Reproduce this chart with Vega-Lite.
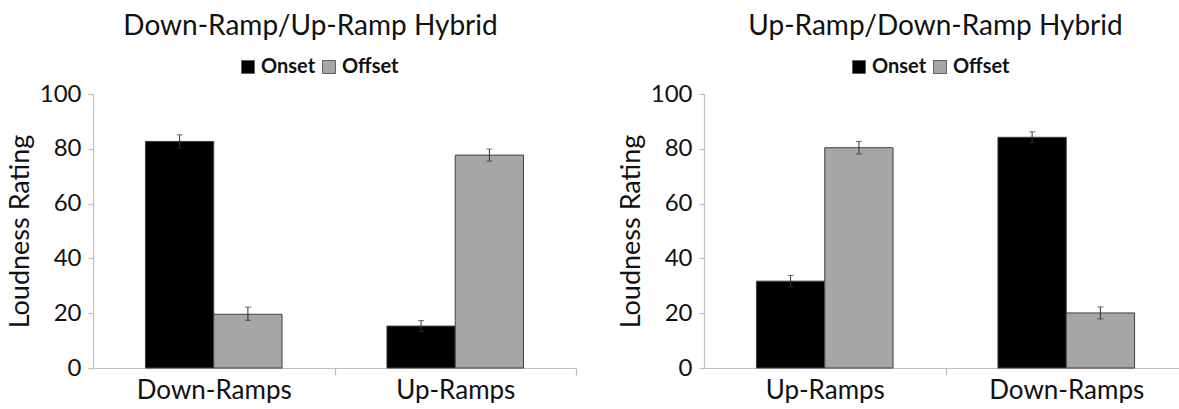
{
  "$schema": "https://vega.github.io/schema/vega-lite/v6.json",
  "padding": {"left": 6, "top": 13, "right": 0, "bottom": 0},
  "background": "white",
  "config": {
    "font": "Lato",
    "view": {"stroke": null},
    "axis": {"labelColor": "#111111", "titleColor": "#111111", "domainColor": "#bfbfbf", "tickColor": "#bfbfbf", "domainWidth": 1.2, "tickWidth": 1.2, "labelFont": "Lato", "titleFont": "Lato"},
    "title": {"font": "Lato", "fontSize": 28, "fontWeight": "normal", "color": "#111111", "anchor": "middle", "frame": "group"}
  },
  "datasets": {
    "left": [
      {"ramp": "Down-Ramps", "timing": "Onset", "rating": 82.7, "lo": 80.3, "hi": 85.1},
      {"ramp": "Down-Ramps", "timing": "Offset", "rating": 19.6, "lo": 17.4, "hi": 22.2},
      {"ramp": "Up-Ramps", "timing": "Onset", "rating": 15.3, "lo": 13.3, "hi": 17.3},
      {"ramp": "Up-Ramps", "timing": "Offset", "rating": 77.7, "lo": 75.5, "hi": 79.9}
    ],
    "right": [
      {"ramp": "Up-Ramps", "timing": "Onset", "rating": 31.7, "lo": 29.6, "hi": 33.8},
      {"ramp": "Up-Ramps", "timing": "Offset", "rating": 80.4, "lo": 78.1, "hi": 82.7},
      {"ramp": "Down-Ramps", "timing": "Onset", "rating": 84.2, "lo": 82.2, "hi": 86.2},
      {"ramp": "Down-Ramps", "timing": "Offset", "rating": 20.1, "lo": 17.9, "hi": 22.3}
    ]
  },
  "hconcat": [
    {
      "title": {"text": "Down-Ramp/Up-Ramp Hybrid", "dx": -24, "offset": 16},
      "width": 483,
      "height": 274,
      "data": {"name": "left"},
      "encoding": {
        "x": {"field": "ramp", "type": "nominal", "sort": ["Down-Ramps", "Up-Ramps"], "scale": {"paddingInner": 0, "paddingOuter": 0},
              "axis": {"title": null, "labelAngle": 0, "labelFontSize": 26, "tickSize": 7, "tickOffset": 120.75, "labelOffset": -120.75, "labelPadding": 2}},
        "xOffset": {"field": "timing", "type": "nominal", "sort": ["Onset", "Offset"], "scale": {"paddingInner": 0, "paddingOuter": 0.768}}
      },
      "layer": [
        {
          "mark": {"type": "bar", "stroke": "#404040", "strokeWidth": 1},
          "encoding": {
            "y": {"field": "rating", "type": "quantitative", "scale": {"domain": [0, 100]},
                  "axis": {"values": [0, 20, 40, 60, 80, 100], "grid": false, "title": "Loudness Rating", "titleFontSize": 27, "titleFontWeight": "normal", "titlePadding": 5, "labelFontSize": 24, "tickSize": 5, "labelPadding": 7}},
            "color": {"field": "timing", "type": "nominal", "sort": ["Onset", "Offset"],
                      "scale": {"domain": ["Onset", "Offset"], "range": ["#000000", "#a6a6a6"]},
                      "legend": {"title": null, "orient": "none", "legendX": 145, "legendY": -37, "direction": "horizontal", "symbolType": "square", "symbolSize": 169, "symbolStrokeColor": "#606060", "symbolStrokeWidth": 1, "symbolOpacity": 1, "labelFontSize": 20, "labelFontWeight": "bold", "labelColor": "#111111", "columnPadding": 3, "labelOffset": 3}}
          }
        },
        {
          "mark": {"type": "rule", "color": "#303030", "strokeWidth": 1},
          "encoding": {"y": {"field": "lo", "type": "quantitative"}, "y2": {"field": "hi"}}
        },
        {
          "mark": {"type": "tick", "color": "#303030", "size": 6, "thickness": 1},
          "encoding": {"y": {"field": "hi", "type": "quantitative"}}
        },
        {
          "mark": {"type": "tick", "color": "#303030", "size": 6, "thickness": 1},
          "encoding": {"y": {"field": "lo", "type": "quantitative"}}
        }
      ]
    },
    {
      "title": {"text": "Up-Ramp/Down-Ramp Hybrid", "dx": -10, "offset": 16},
      "width": 483,
      "height": 274,
      "data": {"name": "right"},
      "encoding": {
        "x": {"field": "ramp", "type": "nominal", "sort": ["Up-Ramps", "Down-Ramps"], "scale": {"paddingInner": 0, "paddingOuter": 0},
              "axis": {"title": null, "labelAngle": 0, "labelFontSize": 26, "tickSize": 7, "tickOffset": 120.75, "labelOffset": -120.75, "labelPadding": 2}},
        "xOffset": {"field": "timing", "type": "nominal", "sort": ["Onset", "Offset"], "scale": {"paddingInner": 0, "paddingOuter": 0.768}}
      },
      "layer": [
        {
          "mark": {"type": "bar", "stroke": "#404040", "strokeWidth": 1},
          "encoding": {
            "y": {"field": "rating", "type": "quantitative", "scale": {"domain": [0, 100]},
                  "axis": {"values": [0, 20, 40, 60, 80, 100], "grid": false, "title": "Loudness Rating", "titleFontSize": 27, "titleFontWeight": "normal", "titlePadding": 5, "labelFontSize": 24, "tickSize": 5, "labelPadding": 7}},
            "color": {"field": "timing", "type": "nominal", "sort": ["Onset", "Offset"],
                      "scale": {"domain": ["Onset", "Offset"], "range": ["#000000", "#a6a6a6"]},
                      "legend": {"title": null, "orient": "none", "legendX": 145, "legendY": -37, "direction": "horizontal", "symbolType": "square", "symbolSize": 169, "symbolStrokeColor": "#606060", "symbolStrokeWidth": 1, "symbolOpacity": 1, "labelFontSize": 20, "labelFontWeight": "bold", "labelColor": "#111111", "columnPadding": 3, "labelOffset": 3}}
          }
        },
        {
          "mark": {"type": "rule", "color": "#303030", "strokeWidth": 1},
          "encoding": {"y": {"field": "lo", "type": "quantitative"}, "y2": {"field": "hi"}}
        },
        {
          "mark": {"type": "tick", "color": "#303030", "size": 6, "thickness": 1},
          "encoding": {"y": {"field": "hi", "type": "quantitative"}}
        },
        {
          "mark": {"type": "tick", "color": "#303030", "size": 6, "thickness": 1},
          "encoding": {"y": {"field": "lo", "type": "quantitative"}}
        }
      ]
    }
  ],
  "spacing": 40,
  "resolve": {"scale": {"color": "independent", "x": "independent", "y": "independent"}, "legend": {"color": "independent"}}
}
